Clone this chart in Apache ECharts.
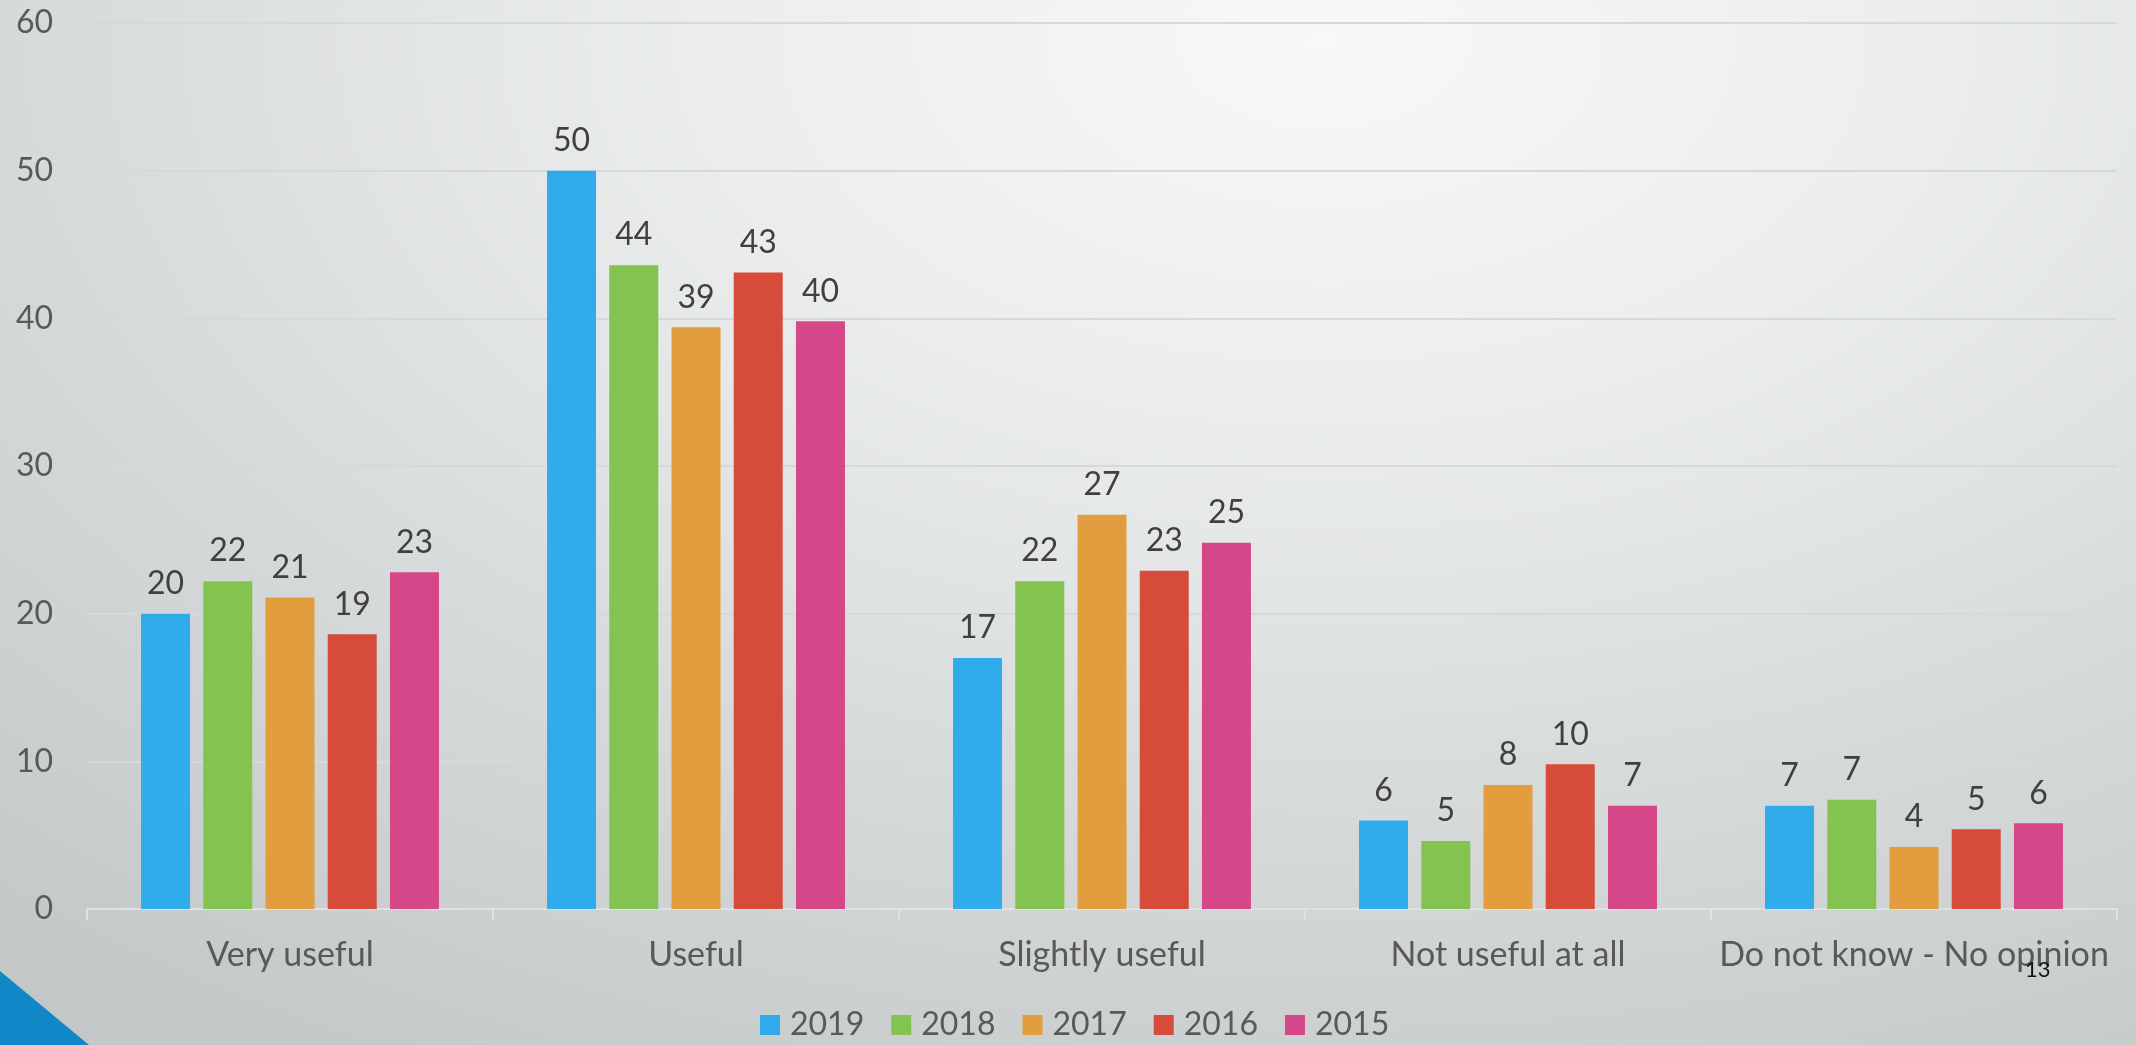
<!DOCTYPE html>
<html>
<head>
<meta charset="utf-8">
<script src="https://cdn.jsdelivr.net/npm/echarts@6/dist/echarts.min.js"></script>
<style>
html,body{margin:0;padding:0;width:2136px;height:1045px;overflow:hidden;}
#chart{width:2136px;height:1045px;
background: radial-gradient(ellipse 95% 115% at 62% 4%, #f7f8f8 0%, #eceeee 30%, #d8dbdc 62%, #c3c7c8 100%);}
</style>
</head>
<body>
<div id="chart"></div>
<script>
const categories = ['Very useful', 'Useful', 'Slightly useful', 'Not useful at all', 'Do not know - No opinion'];
const years = ['2019', '2018', '2017', '2016', '2015'];
const values2019 = [20.0, 50.0, 17.0, 6.0, 7.0];
const values2018 = [22.2, 43.6, 22.2, 4.6, 7.4];
const values2017 = [21.1, 39.4, 26.7, 8.4, 4.2];
const values2016 = [18.6, 43.1, 22.9, 9.8, 5.4];
const values2015 = [22.8, 39.8, 24.8, 7.0, 5.8];
const colors = ['#30ACEC', '#82C44F', '#E29D3F', '#D64B3A', '#D64789'];
const yTicks = { min: 0, max: 60, interval: 10 };

const seriesValues = [values2019, values2018, values2017, values2016, values2015];
const FONT = 'Lato';

const chart = echarts.init(document.getElementById('chart'), null, { renderer: 'canvas' });
chart.setOption({
  backgroundColor: 'transparent',
  animation: false,
  color: colors,
  grid: { left: 87, right: 19, top: 23, bottom: 136, containLabel: false },
  legend: {
    data: years,
    left: 755,
    top: 1004,
    itemWidth: 20,
    itemHeight: 20,
    itemGap: 27,
    icon: 'rect',
    textStyle: { fontFamily: FONT, fontSize: 32, color: '#595959', width: 72, padding: [0, 0, 0, 5] }
  },
  xAxis: {
    type: 'category',
    data: categories,
    axisLine: { show: true, lineStyle: { color: '#dfe1e2', width: 2 } },
    axisTick: { show: true, length: 11, lineStyle: { color: '#dfe1e2', width: 2 } },
    axisLabel: { fontFamily: FONT, fontSize: 34, color: '#595959', margin: 29, interval: 0 }
  },
  yAxis: {
    type: 'value',
    min: yTicks.min,
    max: yTicks.max,
    interval: yTicks.interval,
    axisLine: { show: false },
    axisTick: { show: false },
    splitLine: { lineStyle: { color: '#d6d9da', width: 2 } },
    axisLabel: { fontFamily: FONT, fontSize: 32, color: '#595959', margin: 34 }
  },
  series: years.map((y, i) => ({
    name: y,
    type: 'bar',
    data: seriesValues[i],
    barWidth: 49,
    barGap: '27%',
    itemStyle: { color: colors[i] },
    label: {
      show: true,
      position: 'top',
      distance: 14,
      fontFamily: FONT,
      fontSize: 32,
      color: '#404040',
      formatter: p => Math.round(p.value)
    }
  })),
  graphic: [
    {
      type: 'polygon',
      shape: { points: [[0, 971], [89, 1045], [0, 1045]] },
      style: { fill: '#1287C8' }
    },
    {
      type: 'text',
      left: 2025,
      top: 959,
      z: 100,
      style: { text: '13', fontFamily: FONT, fontSize: 22, fill: '#111111' }
    }
  ]
});
</script>
</body>
</html>
